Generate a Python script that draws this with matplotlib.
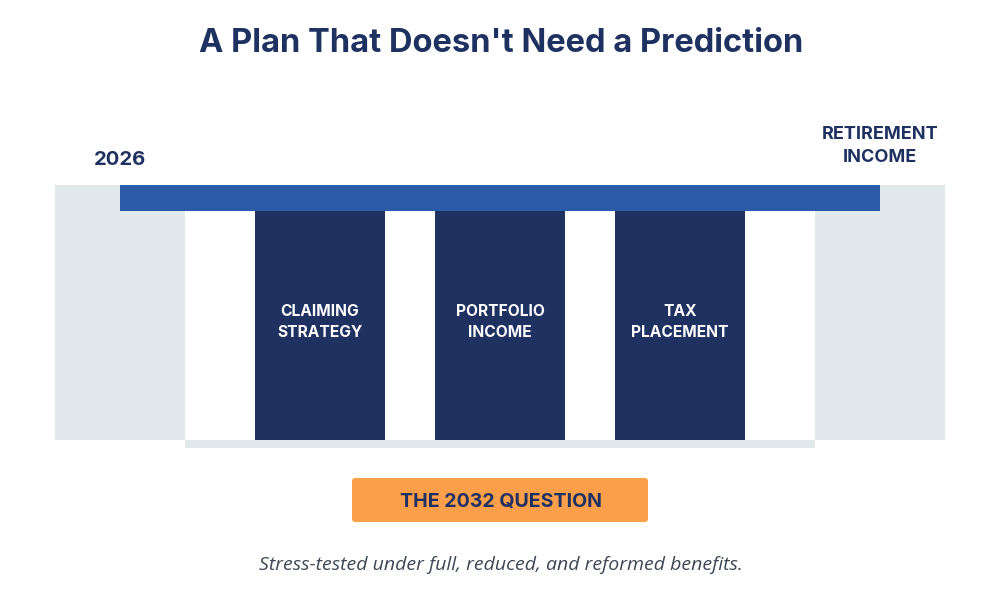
import matplotlib
matplotlib.use("Agg")
import matplotlib.pyplot as plt
from matplotlib.patches import Rectangle, FancyBboxPatch

TITLE = "A Plan That Doesn't Need a Prediction"
START_LABEL = "2026"
END_LABEL = "RETIREMENT\nINCOME"
PILLARS = ["CLAIMING\nSTRATEGY", "PORTFOLIO\nINCOME", "TAX\nPLACEMENT"]
PILLAR_LEFT = [255, 435, 615]
BADGE = "THE 2032 QUESTION"
NOTE = "Stress-tested under full, reduced, and reformed benefits."

NAVY = "#1e3160"
BLUE = "#2a5aa8"
PALE = "#e1e9ed"
ORANGE = "#fb9f4b"
GREY = "#3d4654"
FONT = ["Inter", "DejaVu Sans"]
FONT_I = ["Open Sans", "DejaVu Sans"]

fig = plt.figure(figsize=(10, 6), dpi=100, facecolor="white")
ax = fig.add_axes([0, 0, 1, 1])
ax.set_xlim(0, 1000)
ax.set_ylim(600, 0)
ax.axis("off")

def rect(x, y, w, h, c, z=1):
    ax.add_patch(Rectangle((x, y), w, h, fc=c, ec="none", lw=0, zorder=z))

rect(55, 185, 130, 255, PALE)
rect(815, 185, 130, 255, PALE)
rect(185, 440, 630, 8, PALE)
rect(185, 185, 630, 26, PALE)
rect(120, 185, 760, 26, BLUE, 3)
for x, label in zip(PILLAR_LEFT, PILLARS):
    rect(x, 211, 130, 229, NAVY, 2)
    ax.text(x + 65, 322, label, color="white", fontsize=11.2, fontweight="bold",
            family=FONT, ha="center", va="center", linespacing=1.42, zorder=4)

ax.add_patch(FancyBboxPatch((355, 481), 290, 38, boxstyle="round,pad=3,rounding_size=3",
                            fc=ORANGE, ec="none", lw=0, zorder=2))
ax.text(501, 502, BADGE, color=NAVY, fontsize=14.1, fontweight="bold", family=FONT,
        ha="center", va="center", zorder=3)
ax.text(501, 43, TITLE, color=NAVY, fontsize=23.5, fontweight="bold", family=FONT,
        ha="center", va="center")
ax.text(120, 160, START_LABEL, color=NAVY, fontsize=14.6, fontweight="bold", family=FONT,
        ha="center", va="center")
ax.text(880, 146, END_LABEL, color=NAVY, fontsize=13, fontweight="bold", family=FONT,
        ha="center", va="center", linespacing=1.4)
ax.text(501, 565, NOTE, color=GREY, fontsize=14, style="italic", family=FONT_I,
        ha="center", va="center")

fig.savefig("out.png", dpi=100, facecolor="white")
